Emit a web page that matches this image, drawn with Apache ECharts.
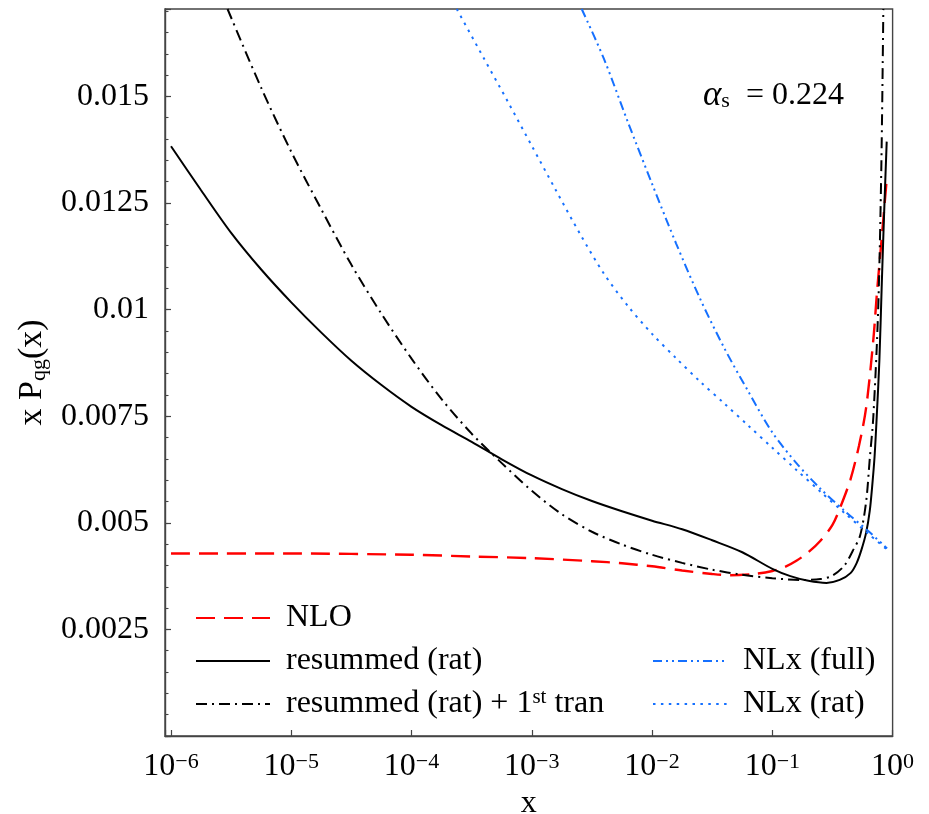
<!DOCTYPE html>
<html>
<head>
<meta charset="utf-8">
<script src="https://cdn.jsdelivr.net/npm/echarts@6/dist/echarts.min.js"></script>
<style>
  html, body { margin: 0; padding: 0; background: #fff; }
  #chart { width: 929px; height: 814px; }
</style>
</head>
<body>
<div id="chart"></div>
<script>
// x positions are given as log10(x); values are x·P_qg(x)

// NLO
const nloLogX = [-6.0, -5.0, -4.0, -3.5, -3.0, -2.5, -2.25, -2.0, -1.75, -1.5, -1.35, -1.15, -1.0, -0.9, -0.8, -0.7, -0.6, -0.5, -0.43, -0.35, -0.28, -0.22, -0.16, -0.13, -0.09, -0.046];
const nloY = [0.00428, 0.00428, 0.00425, 0.00421, 0.00417, 0.00410, 0.00405, 0.00398, 0.00388, 0.00380, 0.00377, 0.00380, 0.00387, 0.00396, 0.00411, 0.00431, 0.00458, 0.00495, 0.00540, 0.00602, 0.00680, 0.00770, 0.00930, 0.01040, 0.01170, 0.01315];

// resummed (rat)
const resLogX = [-6.0, -5.75, -5.5, -5.25, -5.0, -4.75, -4.5, -4.25, -4.0, -3.75, -3.5, -3.25, -3.0, -2.75, -2.5, -2.25, -2.0, -1.75, -1.5, -1.25, -1.0, -0.85, -0.7, -0.55, -0.44, -0.35, -0.3, -0.26, -0.22, -0.19, -0.17, -0.15, -0.13, -0.11, -0.09, -0.07, -0.049];
const resY = [0.01383, 0.01280, 0.01180, 0.01094, 0.01017, 0.00946, 0.00880, 0.00823, 0.00772, 0.00729, 0.00690, 0.00649, 0.00611, 0.00579, 0.00551, 0.00527, 0.00505, 0.00485, 0.00459, 0.00431, 0.00392, 0.00375, 0.00364, 0.00359, 0.00366, 0.00382, 0.00405, 0.00436, 0.00477, 0.00528, 0.00585, 0.00655, 0.00760, 0.00880, 0.01060, 0.01230, 0.01394];

// resummed (rat) + 1st transient
const tranLogX = [-5.53, -5.25, -5.0, -4.75, -4.5, -4.25, -4.0, -3.75, -3.5, -3.25, -3.0, -2.75, -2.5, -2.25, -2.0, -1.75, -1.5, -1.25, -1.0, -0.75, -0.6, -0.5, -0.4, -0.33, -0.27, -0.22, -0.19, -0.16, -0.12, -0.094, -0.077];
const tranY = [0.01705, 0.01520, 0.01370, 0.01235, 0.01105, 0.00990, 0.00885, 0.00790, 0.00709, 0.00640, 0.00575, 0.00520, 0.00479, 0.00449, 0.00425, 0.00406, 0.00390, 0.00378, 0.00370, 0.00366, 0.00368, 0.00376, 0.00400, 0.00435, 0.00470, 0.00550, 0.00650, 0.00750, 0.01000, 0.01330, 0.01705];

// NLx (full)
const fullLogX = [-2.585, -2.4, -2.2, -2.0, -1.8, -1.6, -1.4, -1.2, -1.0, -0.8, -0.6, -0.4, -0.2, -0.046];
const fullY = [0.01705, 0.01588, 0.01439, 0.01295, 0.01155, 0.01025, 0.00910, 0.00808, 0.00712, 0.00640, 0.00580, 0.00528, 0.00480, 0.00440];

// NLx (rat)
const ratLogX = [-3.624, -3.4, -3.2, -3.0, -2.8, -2.6, -2.4, -2.2, -2.0, -1.8, -1.6, -1.4, -1.2, -1.0, -0.8, -0.6, -0.4, -0.2, -0.046];
const ratY = [0.01705, 0.01590, 0.01488, 0.01384, 0.01280, 0.01178, 0.01084, 0.01008, 0.00943, 0.00886, 0.00831, 0.00780, 0.00728, 0.00676, 0.00624, 0.00573, 0.00523, 0.00474, 0.00437];

// axis ranges and ticks
const xMinExp = -6.05;
const xMaxValue = 1;
const yMin = 0;
const yMax = 0.01705;
const yMajorStep = 0.0025;
const yMinorStep = 0.0005;

const seriesNames = ['NLO', 'resummed (rat)', 'resummed (rat) + 1st tran', 'NLx (full)', 'NLx (rat)'];
const annotation = '{a|α}{s|s}{n|  = 0.224}';

const FONT = 'Liberation Serif';
const RED = '#ff0000';
const BLUE = '#1570ff';
const FRAME = '#444';

function toPoints(logX, ys) {
  return logX.map((e, i) => [Math.pow(10, e), ys[i]]);
}

function lineSeries(name, logX, ys, color, width, type) {
  return {
    name: name,
    type: 'line',
    data: toPoints(logX, ys),
    symbol: 'none',
    smooth: 0.3,
    clip: true,
    itemStyle: { color: color },
    lineStyle: { color: color, width: width, type: type }
  };
}

function legendFormatter(name) {
  return '{t|' + name.replace('1st', '1}{sup|st}{t|') + '}';
}

const legendCommon = {
  orient: 'vertical',
  itemWidth: 74,
  itemHeight: 14,
  itemGap: 9,
  padding: 0,
  selectedMode: false,
  formatter: legendFormatter,
  itemStyle: { opacity: 0 },
  textStyle: {
    color: '#000',
    fontFamily: FONT,
    fontSize: 32,
    lineHeight: 34,
    padding: [0, 0, 0, 11],
    rich: {
      t: { fontFamily: FONT, fontSize: 32, lineHeight: 34, color: '#000' },
      sup: { fontFamily: FONT, fontSize: 21, lineHeight: 21, verticalAlign: 'top', color: '#000' }
    }
  }
};

const chart = echarts.init(document.getElementById('chart'), null, { renderer: 'canvas' });

chart.setOption({
  animation: false,
  backgroundColor: '#fff',
  grid: {
    left: 165, right: 36.4, top: 9, bottom: 78,
    show: true, borderColor: FRAME, borderWidth: 1.4,
    containLabel: false, outerBoundsMode: 'none'
  },
  xAxis: {
    type: 'log',
    logBase: 10,
    min: Math.pow(10, xMinExp),
    max: xMaxValue,
    splitNumber: 6,
    splitLine: { show: false },
    axisLine: { lineStyle: { color: FRAME, width: 1.4 } },
    axisTick: { inside: true, length: 6, lineStyle: { color: FRAME, width: 1.2 } },
    axisLabel: {
      margin: 15,
      formatter: function (v) {
        const e = Math.log10(v);
        const n = Math.round(e);
        if (Math.abs(e - n) > 1e-6) return '';
        return '{b|10}{e|' + (n < 0 ? '\u2212' + (-n) : String(n)) + '}';
      },
      rich: {
        b: { fontFamily: FONT, fontSize: 32, lineHeight: 32, color: '#000' },
        e: { fontFamily: FONT, fontSize: 22, lineHeight: 13, verticalAlign: 'top', color: '#000' }
      }
    },
    name: 'x',
    nameLocation: 'middle',
    nameGap: 47,
    nameTextStyle: { fontFamily: FONT, fontSize: 32, lineHeight: 32, color: '#000' }
  },
  yAxis: [
    {
      type: 'value',
      position: 'left',
      min: yMin,
      max: yMax,
      interval: yMajorStep,
      splitLine: { show: false },
      axisLine: { show: true, lineStyle: { color: FRAME, width: 1.4 } },
      axisTick: { inside: true, length: 6, lineStyle: { color: FRAME, width: 1.2 } },
      axisLabel: {
        margin: 16,
        fontFamily: FONT,
        fontSize: 32,
        color: '#000',
        formatter: function (v) {
          if (v <= 0 || v > 0.0151) return '';
          return String(+v.toFixed(5));
        }
      },
      name: '{t|x P}{sub|qg}{t|(x)}',
      nameLocation: 'middle',
      nameRotate: 90,
      nameGap: 114,
      nameTextStyle: {
        rich: {
          t: { fontFamily: FONT, fontSize: 34, lineHeight: 36, color: '#000' },
          sub: { fontFamily: FONT, fontSize: 22, lineHeight: 20, verticalAlign: 'bottom', color: '#000' }
        }
      }
    },
    {
      // minor tick marks every 0.0005
      type: 'value',
      position: 'left',
      min: yMin,
      max: yMax,
      interval: yMinorStep,
      splitLine: { show: false },
      axisLine: { show: false },
      axisTick: { inside: true, length: 3.5, lineStyle: { color: FRAME, width: 1.1 } },
      axisLabel: { show: false }
    }
  ],
  legend: [
    Object.assign({}, legendCommon, { data: seriesNames.slice(0, 3), left: 195, top: 601 }),
    Object.assign({}, legendCommon, { data: seriesNames.slice(3), left: 652, top: 644 })
  ],
  graphic: [
    {
      type: 'text',
      left: 703,
      top: 78,
      style: {
        text: annotation,
        fill: '#000',
        rich: {
          a: { fontFamily: FONT, fontStyle: 'italic', fontSize: 35, lineHeight: 34, fill: '#000' },
          s: { fontFamily: FONT, fontSize: 22, lineHeight: 22, verticalAlign: 'bottom', fill: '#000' },
          n: { fontFamily: FONT, fontSize: 32, lineHeight: 34, fill: '#000' }
        }
      }
    }
  ],
  series: [
    lineSeries(seriesNames[0], nloLogX, nloY, RED, 2.4, [19, 9]),
    lineSeries(seriesNames[1], resLogX, resY, '#000', 2, 'solid'),
    lineSeries(seriesNames[2], tranLogX, tranY, '#000', 2, [11, 5, 2, 5]),
    lineSeries(seriesNames[3], fullLogX, fullY, BLUE, 2, [9, 4, 2, 4, 2, 4]),
    lineSeries(seriesNames[4], ratLogX, ratY, BLUE, 2, [2.5, 5.4])
  ]
});
</script>
</body>
</html>
